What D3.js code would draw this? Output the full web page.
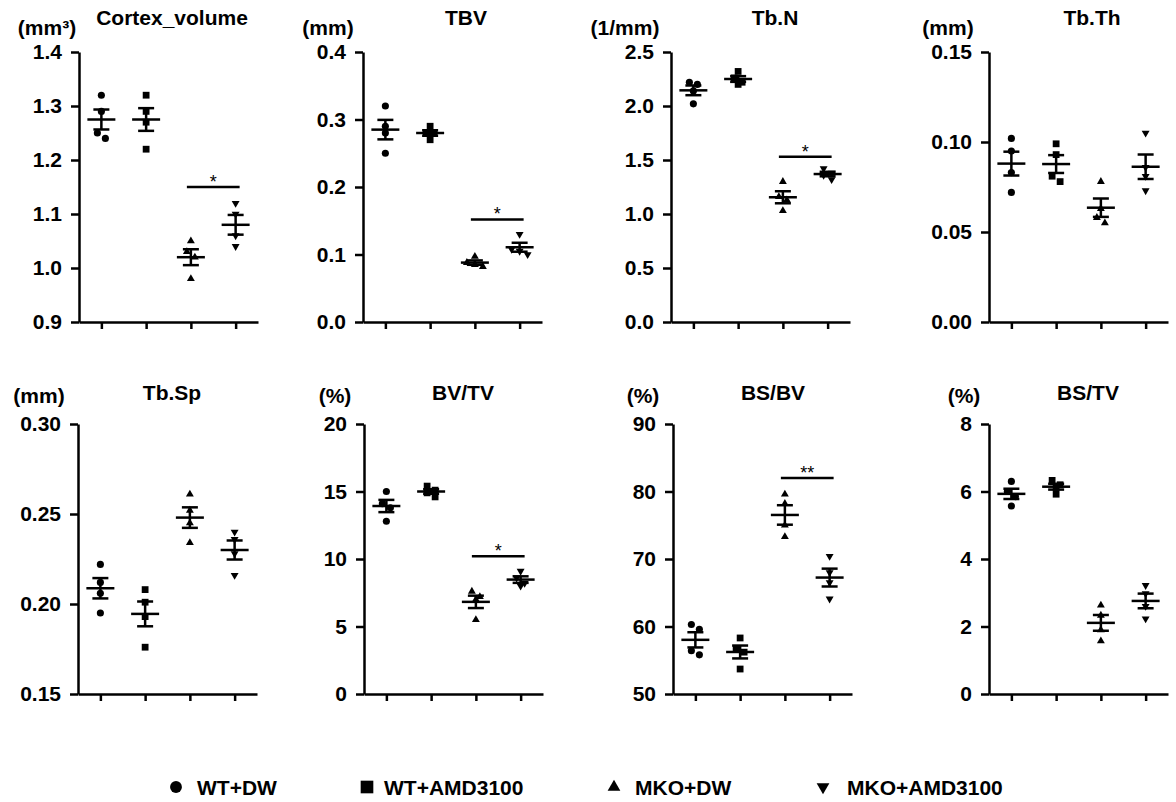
<!DOCTYPE html>
<html>
<head>
<meta charset="utf-8">
<script src="https://cdn.jsdelivr.net/npm/d3@7"></script>
<style>
  body { margin: 0; background: #fff; }
  svg text { font-family: "Liberation Sans", Arial, Helvetica, sans-serif; font-weight: bold; fill: #000; }
</style>
</head>
<body>
<svg id="chart" width="1176" height="802"></svg>
<script>
// ---- data -------------------------------------------------------------
const groups = ["WT+DW", "WT+AMD3100", "MKO+DW", "MKO+AMD3100"];

const panelTitles = ["Cortex_volume", "TBV", "Tb.N", "Tb.Th", "Tb.Sp", "BV/TV", "BS/BV", "BS/TV"];
const panelUnits  = ["(mm³)", "(mm)", "(1/mm)", "(mm)", "(mm)", "(%)", "(%)", "(%)"];

// individual animals, one array per group (WT+DW, WT+AMD3100, MKO+DW, MKO+AMD3100)
const cortexVolume = [[1.32, 1.29, 1.25, 1.24], [1.32, 1.29, 1.27, 1.22], [1.05, 1.03, 1.02, 0.98], [1.12, 1.10, 1.06, 1.04]];
const tbv          = [[0.32, 0.29, 0.28, 0.25], [0.29, 0.28, 0.28, 0.27], [0.097, 0.088, 0.085, 0.082], [0.13, 0.108, 0.105, 0.10]];
const tbN          = [[2.22, 2.20, 2.14, 2.02], [2.32, 2.26, 2.22, 2.20], [1.30, 1.16, 1.13, 1.03], [1.42, 1.38, 1.36, 1.32]];
const tbTh         = [[0.102, 0.095, 0.083, 0.072], [0.099, 0.093, 0.081, 0.078], [0.078, 0.063, 0.058, 0.055], [0.105, 0.086, 0.081, 0.073]];
const tbSp         = [[0.222, 0.212, 0.206, 0.195], [0.208, 0.201, 0.193, 0.176], [0.261, 0.252, 0.245, 0.234], [0.240, 0.236, 0.228, 0.216]];
const bvTv         = [[15.0, 14.1, 13.8, 12.8], [15.4, 15.1, 14.9, 14.6], [7.6, 7.2, 7.0, 5.5], [9.1, 8.6, 8.2, 8.0]];
const bsBv         = [[60.3, 59.6, 56.4, 55.8], [58.3, 56.7, 56.2, 53.7], [79.6, 78.2, 75.0, 73.3], [70.4, 68.0, 66.5, 64.1]];
const bsTv         = [[6.30, 6.00, 5.85, 5.57], [6.33, 6.20, 6.12, 5.92], [2.63, 2.33, 1.90, 1.57], [3.22, 2.98, 2.60, 2.23]];

// y-axis tick values
const cortexTicks = [0.9, 1.0, 1.1, 1.2, 1.3, 1.4];
const tbvTicks    = [0, 0.1, 0.2, 0.3, 0.4];
const tbNTicks    = [0, 0.5, 1.0, 1.5, 2.0, 2.5];
const tbThTicks   = [0, 0.05, 0.10, 0.15];
const tbSpTicks   = [0.15, 0.20, 0.25, 0.30];
const bvTvTicks   = [0, 5, 10, 15, 20];
const bsBvTicks   = [50, 60, 70, 80, 90];
const bsTvTicks   = [0, 2, 4, 6, 8];
const tickFormats = [".1f", ".1f", ".1f", ".2f", ".2f", "d", "d", "d"];

// MKO+DW vs MKO+AMD3100 comparisons: panel index, bar height (data units), label
const sigPanels = [0, 1, 2, 5, 6];
const sigLevels = [1.15, 0.152, 1.53, 10.2, 82];
const sigLabels = ["*", "*", "*", "*", "**"];

// ---- layout -----------------------------------------------------------
const panelW = 179, panelH = 270;
const FONT = "21px";
const panelLayout = [
  { x: 79,  top: 52,  titleX: 172,  unitX: 47,  titleY: 25,  unitY: 35 },
  { x: 363, top: 52,  titleX: 466,  unitX: 328, titleY: 25,  unitY: 35 },
  { x: 671, top: 52,  titleX: 775,  unitX: 625, titleY: 25,  unitY: 35 },
  { x: 989, top: 52,  titleX: 1092, unitX: 948, titleY: 25,  unitY: 35 },
  { x: 78,  top: 424, titleX: 172,  unitX: 39,  titleY: 400, unitY: 403 },
  { x: 364, top: 424, titleX: 463,  unitX: 335, titleY: 400, unitY: 403 },
  { x: 673, top: 424, titleX: 773,  unitX: 643, titleY: 400, unitY: 403 },
  { x: 989, top: 424, titleX: 1088, unitX: 964, titleY: 400, unitY: 403 }
];
const legendMarkerX = [176, 367, 614, 823];
const legendTextX   = [197, 384, 635, 847];

const panelValues = [cortexVolume, tbv, tbN, tbTh, tbSp, bvTv, bsBv, bsTv];
const panelTicks  = [cortexTicks, tbvTicks, tbNTicks, tbThTicks, tbSpTicks, bvTvTicks, bsBvTicks, bsTvTicks];

const symbolTypes = [d3.symbolCircle, d3.symbolSquare, d3.symbolTriangle, d3.symbolTriangle];
const symbolSizes = [40, 46, 27, 27];
const symbolRot   = [0, 0, 0, 180];

const svg = d3.select("#chart");
const LW = 2.5;

// spread points that would overlap vertically into a symmetric row
function dodge(vals, y, minGap, step) {
  const pts = vals.map(v => ({ v, py: y(v) })).sort((a, b) => a.py - b.py);
  const rows = [];
  pts.forEach(p => {
    const row = rows[rows.length - 1];
    if (row && Math.abs(p.py - row[0].py) < minGap) row.push(p); else rows.push([p]);
  });
  rows.forEach(row => row.forEach((p, j) => { p.dx = (j - (row.length - 1) / 2) * step; }));
  return pts;
}

panelValues.forEach((data, pi) => {
  const L = panelLayout[pi];
  const ticks = panelTicks[pi];
  const g = svg.append("g").attr("transform", `translate(${L.x},${L.top})`);

  const y = d3.scaleLinear().domain(d3.extent(ticks)).range([panelH, 0]);
  const x = d3.scalePoint().domain(groups).range([0, panelW]).padding(0.5);

  // axes
  const yAxis = g.append("g").call(
    d3.axisLeft(y).tickValues(ticks).tickFormat(d3.format(tickFormats[pi]))
      .tickSize(8).tickPadding(9).tickSizeOuter(0));
  const xAxis = g.append("g").attr("transform", `translate(0,${panelH})`).call(
    d3.axisBottom(x).tickSize(7).tickFormat("").tickSizeOuter(0));
  [yAxis, xAxis].forEach(a => {
    a.selectAll("path.domain").attr("stroke", "#000").attr("stroke-width", LW);
    a.selectAll(".tick line").attr("stroke", "#000").attr("stroke-width", LW);
    a.selectAll(".tick text").style("font-size", FONT).attr("fill", "#000");
  });

  // individual points
  data.forEach((vals, gi) => {
    const cx = x(groups[gi]);
    const sym = d3.symbol().type(symbolTypes[gi]).size(symbolSizes[gi]);
    dodge(vals, y, 6, 8).forEach(p => {
      g.append("path")
        .attr("d", sym())
        .attr("transform", `translate(${cx + p.dx},${p.py}) rotate(${symbolRot[gi]})`)
        .attr("fill", "#000");
    });
  });

  // mean ± SEM
  data.forEach((vals, gi) => {
    const cx = x(groups[gi]);
    const m = d3.mean(vals);
    const sem = d3.deviation(vals) / Math.sqrt(vals.length);
    const lines = [
      [cx - 14, y(m), cx + 14, y(m)],
      [cx - 8, y(m + sem), cx + 8, y(m + sem)],
      [cx - 8, y(m - sem), cx + 8, y(m - sem)],
      [cx, y(m + sem), cx, y(m - sem)]
    ];
    lines.forEach(([x1, y1, x2, y2]) => {
      g.append("line").attr("x1", x1).attr("y1", y1).attr("x2", x2).attr("y2", y2)
        .attr("stroke", "#000").attr("stroke-width", LW);
    });
  });

  // significance bar
  const si = sigPanels.indexOf(pi);
  if (si >= 0) {
    const by = y(sigLevels[si]);
    const x1 = x(groups[2]) - 4, x2 = x(groups[3]) + 4;
    g.append("line").attr("x1", x1).attr("x2", x2).attr("y1", by).attr("y2", by)
      .attr("stroke", "#000").attr("stroke-width", LW);
    g.append("text").attr("x", (x1 + x2) / 2).attr("y", by + 1)
      .attr("text-anchor", "middle").style("font-size", "18px").style("font-weight", "normal")
      .text(sigLabels[si]);
  }

  // title and unit
  svg.append("text").attr("x", L.titleX).attr("y", L.titleY).attr("text-anchor", "middle")
    .style("font-size", FONT).text(panelTitles[pi]);
  svg.append("text").attr("x", L.unitX).attr("y", L.unitY).attr("text-anchor", "middle")
    .style("font-size", FONT).text(panelUnits[pi]);
});

// legend
const legend = svg.append("g");
const legendSizes = [110, 160, 70, 70];
groups.forEach((name, gi) => {
  legend.append("path")
    .attr("d", d3.symbol().type(symbolTypes[gi]).size(legendSizes[gi])())
    .attr("transform", `translate(${legendMarkerX[gi]},787) rotate(${symbolRot[gi]})`)
    .attr("fill", "#000");
  legend.append("text").attr("x", legendTextX[gi]).attr("y", 795)
    .style("font-size", FONT).text(name);
});
</script>
</body>
</html>
